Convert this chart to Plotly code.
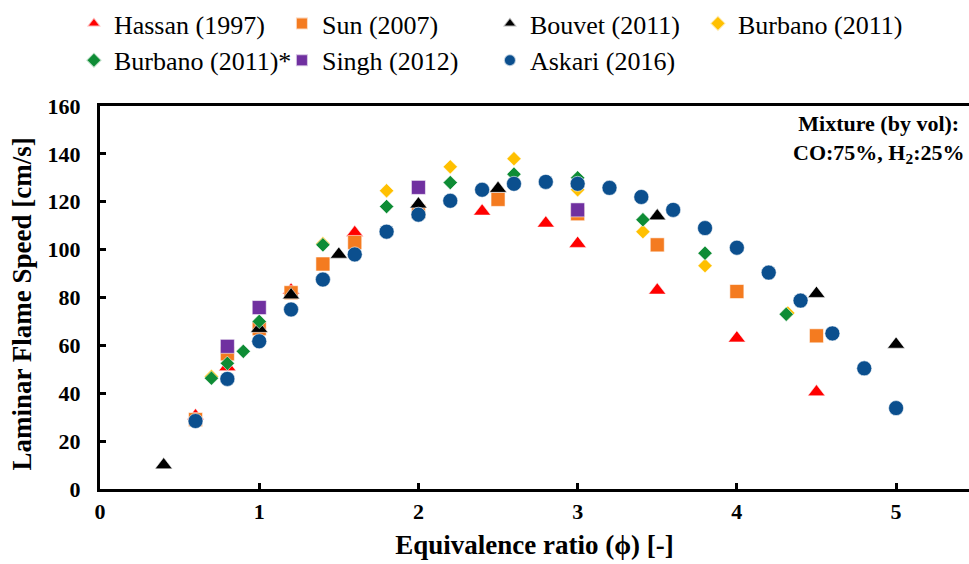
import plotly.graph_objects as go

# Laminar flame speed of a CO/H2 (75/25 by vol) mixture vs equivalence ratio
hassan_phi = [0.6, 0.8, 1.2, 1.6, 2.4, 2.8, 3.0, 3.5, 4.0, 4.5]
hassan_su = [30.5, 51, 83, 107, 116, 111, 102.5, 83, 63, 40.5]

sun_phi = [0.6, 0.8, 1.0, 1.2, 1.4, 1.6, 2.0, 2.5, 3.0, 3.5, 4.0, 4.5]
sun_su = [29, 56.5, 67, 82, 94, 103, 116, 121, 115, 102, 82.5, 64]

bouvet_phi = [0.4, 1.0, 1.2, 1.5, 2.0, 2.5, 3.5, 4.5, 5.0]
bouvet_su = [10, 67, 81, 98, 119, 125.5, 114, 81.6, 60.4]

burbano_phi = [0.7, 1.4, 1.8, 2.2, 2.6, 3.0, 3.41, 3.8, 4.32]
burbano_su = [47, 102.5, 124.6, 134.6, 138, 125, 107.5, 93.3, 73.5]

burbano_s_phi = [0.7, 0.8, 0.9, 1.0, 1.4, 1.8, 2.2, 2.6, 3.0, 3.41, 3.8, 4.31]
burbano_s_su = [46.3, 52.5, 57.5, 70, 102, 118, 128, 131.5, 130, 112.5, 98.5, 73]

singh_phi = [0.8, 1.0, 2.0, 3.0]
singh_su = [59.6, 75.8, 126, 116.6]

askari_phi = [0.6, 0.8, 1.0, 1.2, 1.4, 1.6, 1.8, 2.0, 2.2, 2.4, 2.6, 2.8,
              3.0, 3.2, 3.4, 3.6, 3.8, 4.0, 4.2, 4.4, 4.6, 4.8, 5.0]
askari_su = [28.4, 46, 61.7, 75, 87.5, 98, 107.5, 114.6, 120.4, 125, 127.5, 128.3,
             127.5, 125.8, 122, 116.6, 109, 100.8, 90.4, 78.7, 65, 50.4, 33.8]

x_ticks = [0, 1, 2, 3, 4, 5]
y_ticks = [0, 20, 40, 60, 80, 100, 120, 140, 160]

SERIF = "Liberation Serif, Times New Roman, serif"

series = [
    ("Hassan (1997)", hassan_phi, hassan_su, "triangle-up", "#FF0000", 15),
    ("Sun (2007)", sun_phi, sun_su, "square", "#F47B20", 14),
    ("Bouvet (2011)", bouvet_phi, bouvet_su, "triangle-up", "#000000", 15),
    ("Burbano (2011)", burbano_phi, burbano_su, "diamond", "#FFC000", 11),
    ("Burbano (2011)*", burbano_s_phi, burbano_s_su, "diamond", "#0E8C35", 11),
    ("Singh (2012)", singh_phi, singh_su, "square", "#7030A0", 14),
    ("Askari (2016)", askari_phi, askari_su, "circle", "#0B4F8E", 15),
]

fig = go.Figure()
for name, xs, ys, sym, col, size in series:
    fig.add_trace(go.Scatter(
        x=xs, y=ys, mode="markers", name=name,
        marker=dict(symbol=sym, color=col, size=size,
                    line=dict(color="rgba(255,255,255,0.7)", width=0.8)),
    ))

axis_common = dict(
    showgrid=False, zeroline=False,
    showline=True, linecolor="black", linewidth=3,
    ticks="inside", ticklen=6, tickwidth=3, tickcolor="black",
    tickfont=dict(family=SERIF, size=22, color="black", weight="bold"),
)

fig.update_xaxes(
    range=[0, 5.458], tickvals=x_ticks, mirror=True,
    title_text="Equivalence ratio (\u03d5) [-]", title_standoff=12,
    title_font=dict(family=SERIF, size=27, color="black", weight="bold"),
    ticklabelstandoff=1,
    **axis_common,
)
fig.update_yaxes(
    range=[0, 160], tickvals=y_ticks,
    ticklabelstandoff=12,
    **axis_common,
)

# Plot area spans 869 x 384 px (margins l=100, t=105); convert px to paper units
PW, PH, L, T = 869, 384, 100, 105


def px_x(px):
    return (px - L) / PW


def px_y(py):
    return (T + PH - py) / PH


fig.add_annotation(
    xref="paper", yref="paper", x=px_x(22), y=px_y(304),
    text="Laminar Flame Speed [cm/s]", textangle=-90,
    showarrow=False, xanchor="center", yanchor="middle",
    font=dict(family=SERIF, size=27, color="black", weight="bold"),
)
fig.add_annotation(
    xref="paper", yref="paper", x=px_x(878), y=px_y(108),
    text="Mixture (by vol):<br>CO:75%, H<sub>2</sub>:25%",
    showarrow=False, align="center", xanchor="center", yanchor="top",
    font=dict(family=SERIF, size=22, color="black", weight="bold"),
)

fig.update_layout(
    width=969, height=564,
    margin=dict(l=L, r=0, t=T, b=75),
    paper_bgcolor="white", plot_bgcolor="white",
    font=dict(family=SERIF, color="black"),
    legend=dict(
        orientation="h", x=-0.03, xanchor="left", y=1.277, yanchor="top",
        font=dict(family=SERIF, size=26, color="black"),
        entrywidth=163, entrywidthmode="pixels",
        itemsizing="constant", tracegroupgap=0,
        bgcolor="rgba(0,0,0,0)",
    ),
)

fig.write_html("out.html")
